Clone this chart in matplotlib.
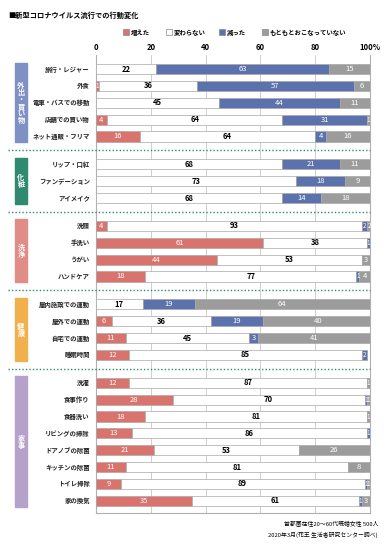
import numpy as np
import matplotlib.pyplot as plt
from matplotlib.patches import Rectangle

plt.rcParams['font.family'] = ['Noto Sans CJK JP', 'DejaVu Sans']

title = '■新型コロナウイルス流行での行動変化'
series = ['増えた', '変わらない', '減った', 'もともとおこなっていない']
colors = ['#d9736d', '#ffffff', '#5c72ad', '#9c9c9c']
text_colors = ['white', 'black', 'white', 'white']

groups = ['外出・買い物', '化粧', '洗浄', '健康', '家事']
group_colors = ['#7f90c4', '#2f8a70', '#e08c87', '#f0b14d', '#b5a1c9']

labels = [
    ['旅行・レジャー', '外食', '電車・バスでの移動', '店舗での買い物', 'ネット通販・フリマ'],
    ['リップ・口紅', 'ファンデーション', 'アイメイク'],
    ['洗顔', '手洗い', 'うがい', 'ハンドケア'],
    ['屋内施設での運動', '屋外での運動', '自宅での運動', '睡眠時間'],
    ['洗濯', '食事作り', '食器洗い', 'リビングの掃除', 'ドアノブの除菌',
     'キッチンの除菌', 'トイレ掃除', '家の換気'],
]

# 増えた / 変わらない / 減った / もともとおこなっていない
increased = [0, 1, 0, 4, 16,  0, 0, 0,  4, 61, 44, 18,  0, 6, 11, 12,
             12, 28, 18, 13, 21, 11, 9, 35]
same = [22, 36, 45, 64, 64,  68, 73, 68,  93, 38, 53, 77,  17, 36, 45, 85,
        87, 70, 81, 86, 53, 81, 89, 61]
decreased = [63, 57, 44, 31, 4,  21, 18, 14,  2, 1, 0, 1,  19, 19, 3, 2,
             0, 1, 0, 1, 0, 0, 1, 1]
never = [15, 6, 11, 1, 16,  11, 9, 18,  2, 1, 3, 4,  64, 40, 41, 0,
         1, 1, 1, 1, 26, 8, 1, 3]

source = ['首都圏在住20～60代既婚女性 500人', '2020年3月(花王 生活者研究センター調べ)']

gap = 0.65
ypos = []
group_span = []
y = 0.0
for g, labs in enumerate(labels):
    start = y
    for _ in labs:
        ypos.append(y)
        y += 1
    group_span.append((start, y - 1))
    y += gap
ypos = np.array(ypos)
all_labels = [l for labs in labels for l in labs]
data = np.array([increased, same, decreased, never], dtype=float)

fig = plt.figure(figsize=(3.89, 5.5), dpi=100)
ax = fig.add_axes([96 / 389, 1 - 513 / 550, 274 / 389, 458 / 550])

left = np.zeros(len(ypos))
for k in range(4):
    vals = data[k]
    ax.barh(ypos, vals, left=left, height=0.6, color=colors[k],
            edgecolor='#a8a8a8', linewidth=0.5, zorder=3)
    for yy, v, l in zip(ypos, vals, left):
        if v > 0:
            fs = 5.5 if v >= 3 else 4.5
            ax.text(l + v / 2, yy, f'{int(v)}', ha='center', va='center',
                    fontsize=fs, color=text_colors[k], zorder=4,
                    fontweight='bold' if k == 1 else 'normal')
    left += vals

ax.set_xlim(0, 100)
ax.set_ylim(ypos[-1] + 0.72, -0.83)
ax.set_yticks([])
ax.set_xticks([0, 20, 40, 60, 80, 100])
ax.set_xticklabels(['0', '20', '40', '60', '80', '100%'], fontsize=5.5,
                   fontweight='bold')
ax.xaxis.tick_top()
ax.tick_params(axis='x', length=0, pad=2)
ax.grid(axis='x', color='#c8c8c8', linewidth=0.6, zorder=0)
for s in ['left', 'right', 'bottom']:
    ax.spines[s].set_color('#b0b0b0')
    ax.spines[s].set_linewidth(0.8)
ax.spines['top'].set_visible(False)

# category labels
for yy, lab in zip(ypos, all_labels):
    ax.text(-2.3, yy, lab, ha='right', va='center', fontsize=4.6,
            fontweight='bold', color='#222222')

# group boxes and separators
x0 = (15 - 96) / 2.74
x1 = (27 - 96) / 2.74
for g, (a, b) in enumerate(group_span):
    ax.add_patch(Rectangle((x0, a - 0.38), x1 - x0, b - a + 0.72,
                           color=group_colors[g], clip_on=False, zorder=2))
    ax.text((x0 + x1) / 2, (a + b) / 2, '\n'.join(groups[g]), ha='center',
            va='center', fontsize=5.2, color='white', fontweight='bold',
            linespacing=1.0)
    if g < len(groups) - 1:
        ys = b + (1 + gap) / 2
        ax.plot([(8 - 96) / 2.74, 100], [ys, ys], color='#2f8a70',
                linestyle=(0, (1, 1.5)), linewidth=1.0, clip_on=False, zorder=5)

# title and legend
fig.text(8 / 389, 1 - 15 / 550, title, fontsize=5.2, fontweight='bold',
         va='center', ha='left')
leg_x = [123, 166, 219, 262]
for k in range(4):
    fig.add_artist(Rectangle((leg_x[k] / 389, 1 - 35 / 550), 5.5 / 389, 5.5 / 550,
                             transform=fig.transFigure, facecolor=colors[k],
                             edgecolor='#888888', linewidth=0.5))
    fig.text((leg_x[k] + 8) / 389, 1 - 32 / 550, series[k], fontsize=4.6,
             fontweight='bold', va='center', ha='left')

# source note
fig.text(378 / 389, 1 - 523 / 550, source[0], fontsize=4.2, ha='right', va='center')
fig.text(378 / 389, 1 - 535 / 550, source[1], fontsize=4.2, ha='right', va='center')

fig.savefig('out.png', dpi=100, facecolor='white')
